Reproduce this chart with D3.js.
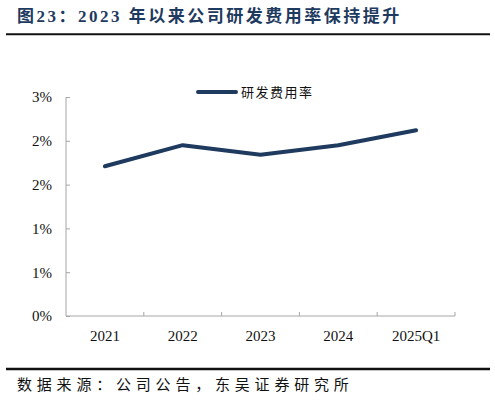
<!DOCTYPE html>
<html>
<head>
<meta charset="utf-8">
<script src="https://cdn.jsdelivr.net/npm/d3@7"></script>
<style>
  body { margin: 0; background: #fff; }
  svg { display: block; }
</style>
</head>
<body>
<svg id="chart" width="495" height="402"></svg>
<script>
// values in percent
const categories = ["2021", "2022", "2023", "2024", "2025Q1"];
const rdRatio = [1.71, 1.95, 1.84, 1.95, 2.12];
const yTicks = [0, 0.5, 1, 1.5, 2, 2.5];
const seriesName = "研发费用率";
const titleText = "图23：2023 年以来公司研发费用率保持提升";
const sourceText = "数据来源：公司公告，东吴证券研究所";

const svg = d3.select("#chart");
const navy = "#1f3a5f";
const axisGray = "#a6a6a6";
const serif = "'Liberation Serif', 'Times New Roman', 'Noto Sans CJK SC', serif";
const cjk = "'Noto Sans CJK SC', 'Liberation Serif', serif";

var margin = { top: 97, left: 66, right: 40, bottom: 86 };
var width = 495 - margin.left - margin.right;
var height = 402 - margin.top - margin.bottom;

// title + rule (latin digits fall to the serif face)
svg.append("text")
  .attr("x", 17).attr("y", 22)
  .attr("fill", navy)
  .style("font-family", serif)
  .style("font-weight", "bold")
  .style("font-size", "17px")
  .style("letter-spacing", "2.5px")
  .text(titleText);
svg.append("line")
  .attr("x1", 6).attr("x2", 490).attr("y1", 34.3).attr("y2", 34.3)
  .attr("stroke", "#111").attr("stroke-width", 2);

const g = svg.append("g")
  .attr("transform", "translate(" + margin.left + "," + margin.top + ")");

var x = d3.scaleBand().domain(categories).range([0, width]);
var y = d3.scaleLinear().domain([0, 2.5]).range([height, 0]);

// y axis
const yAxis = g.append("g")
  .call(d3.axisLeft(y).tickValues(yTicks).tickSize(-4).tickPadding(14)
    .tickFormat(function (d) { return Math.round(d) + "%"; }));
yAxis.select(".domain").attr("stroke", axisGray).attr("d", "M0," + height + "V0");
yAxis.selectAll(".tick line").attr("stroke", axisGray);
yAxis.selectAll("text")
  .attr("fill", "#111")
  .style("font-family", serif)
  .style("font-size", "15px");

// x axis: boundary ticks from the band scale
const xAxis = g.append("g").attr("transform", "translate(0," + height + ")");
xAxis.append("line")
  .attr("x1", 0).attr("x2", width)
  .attr("stroke", axisGray);
xAxis.selectAll(".bound")
  .data(categories)
  .enter()
  .append("line")
  .attr("class", "bound")
  .attr("x1", function (d) { return x(d) + x.bandwidth(); })
  .attr("x2", function (d) { return x(d) + x.bandwidth(); })
  .attr("y1", 0).attr("y2", -4)
  .attr("stroke", axisGray);
xAxis.selectAll(".lbl")
  .data(categories)
  .enter()
  .append("text")
  .attr("class", "lbl")
  .attr("x", function (d) { return x(d) + x.bandwidth() / 2; })
  .attr("y", 25)
  .attr("text-anchor", "middle")
  .attr("fill", "#111")
  .style("font-family", serif)
  .style("font-size", "15px")
  .text(function (d) { return d; });

// line
var line = d3.line()
  .x(function (d, i) { return x(categories[i]) + x.bandwidth() / 2; })
  .y(function (d) { return y(d); });
g.append("path")
  .datum(rdRatio)
  .attr("d", line)
  .attr("fill", "none")
  .attr("stroke", navy)
  .attr("stroke-width", 4)
  .attr("stroke-linejoin", "round")
  .attr("stroke-linecap", "round");

// legend
const leg = svg.append("g").attr("transform", "translate(198,92)");
leg.append("line")
  .attr("x1", 0).attr("x2", 38)
  .attr("stroke", navy).attr("stroke-width", 4).attr("stroke-linecap", "round");
leg.append("text")
  .attr("x", 43).attr("y", 5)
  .attr("fill", "#111")
  .style("font-family", cjk)
  .style("font-size", "13px")
  .style("letter-spacing", "1.5px")
  .text(seriesName);

// bottom rule + source
svg.append("line")
  .attr("x1", 6).attr("x2", 490).attr("y1", 369).attr("y2", 369)
  .attr("stroke", "#111").attr("stroke-width", 2.5);
svg.append("text")
  .attr("x", 17).attr("y", 390)
  .attr("fill", "#111")
  .style("font-family", cjk)
  .style("font-size", "15px")
  .style("letter-spacing", "4.8px")
  .text(sourceText);
</script>
</body>
</html>
